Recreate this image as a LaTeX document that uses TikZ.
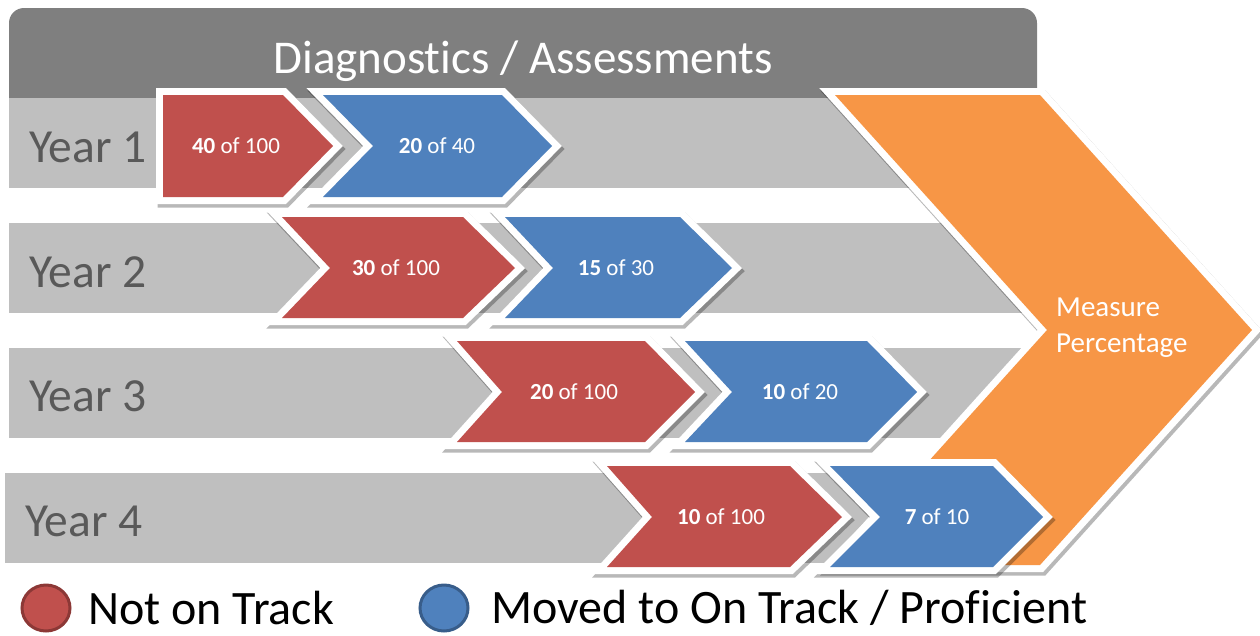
\documentclass[tikz,border=0pt]{standalone}
\usepackage{fontspec}
\setmainfont{Carlito}[Ligatures=NoCommon]
\usepackage{xcolor}
\usetikzlibrary{shapes.geometric}

\definecolor{hdrGray}{HTML}{7F7F7F}
\definecolor{barGray}{HTML}{BFBFBF}
\definecolor{yearGray}{HTML}{595959}
\definecolor{notRed}{HTML}{C0504D}
\definecolor{notRedDark}{HTML}{8C3836}
\definecolor{movBlue}{HTML}{4F81BD}
\definecolor{movBlueDark}{HTML}{385D8A}
\definecolor{measOrange}{HTML}{F79646}

\begin{document}
\begin{tikzpicture}[x=1pt,y=-1pt,
      bar/.style={
        fill=barGray,
        anchor=west,
        minimum width=1031pt,
        minimum height=90pt,
        inner xsep=20pt,
        inner ysep=0pt,
        text width=991pt,
        text height=38pt,
        text depth=0pt,
        align=flush left,
        text=yearGray,
        font=\fontsize{47.5}{52}\selectfont
      },
      chev/.style={
        line join=miter,
        preaction={draw=black, draw opacity=.28, line width=15pt,
          transform canvas={shift={(2pt,-3pt)}}},
        preaction={draw=white, line width=14pt}
      },
      val/.style={text=white, inner sep=0pt, font=\fontsize{23}{28}\selectfont},
      dot/.style={ellipse, line width=3pt, minimum width=48pt,
        minimum height=46pt, inner sep=0pt},
      key/.style={anchor=west, inner sep=0pt, font=\fontsize{48}{56}\selectfont}]

    \useasboundingbox (0,0) rectangle (1260,635);

    % header and year rows
    \fill[hdrGray, rounded corners=15pt] (9,8) rectangle (1037,125);
    \node[text=white, font=\fontsize{47}{56}\selectfont] (hdr) at (523,61) {Diagnostics / Assessments};

    \node[bar] (yr1) at (9,143) {Year 1};
    \node[bar] (yr2) at (9,268) {Year 2};
    \node[bar] (yr3) at (9,392.5) {Year 3};
    \node[bar] (yr4) at (5,517.5) {Year 4};

    % big chevron
    \path[chev, fill=measOrange] (835,95) -- (1040,95) -- (1252,330) -- (1040,565)
      -- (835,565) -- (1047,330) -- cycle;
    \node[anchor=west, align=left, text=white, inner sep=0pt,
      font=\fontsize{29}{36}\selectfont] (meas) at (1056,328) {Measure\\Percentage};

    % year 1
    \path[chev, fill=notRed] (163,95) -- (283,95) -- (333,146) -- (283,197) -- (163,197) -- cycle;
    \path[chev, fill=movBlue] (323,95) -- (502,95) -- (552,146) -- (502,197) -- (323,197) -- (373,146) -- cycle;
    \node[val] (nr1) at (236,146) {\textbf{40} of 100};
    \node[val] (mv1) at (437,146) {\textbf{20} of 40};

    % year 2
    \path[chev, fill=notRed] (282,217) -- (463,217) -- (515,268) -- (463,318) -- (282,318) -- (330,268) -- cycle;
    \path[chev, fill=movBlue] (505,217) -- (680,217) -- (732,268) -- (680,318) -- (505,318) -- (553,268) -- cycle;
    \node[val] (nr2) at (396,268) {\textbf{30} of 100};
    \node[val] (mv2) at (616,268) {\textbf{15} of 30};

    % year 3
    \path[chev, fill=notRed] (457,341) -- (645,341) -- (695,392) -- (645,442) -- (457,442) -- (502,392) -- cycle;
    \path[chev, fill=movBlue] (685,341) -- (867,341) -- (917,392) -- (867,442) -- (685,442) -- (732,392) -- cycle;
    \node[val] (nr3) at (574,392) {\textbf{20} of 100};
    \node[val] (mv3) at (800,392) {\textbf{10} of 20};

    % year 4
    \path[chev, fill=notRed] (607,466) -- (790,466) -- (842,517) -- (790,567) -- (607,567) -- (652,517) -- cycle;
    \path[chev, fill=movBlue] (830,466) -- (993,466) -- (1043,517) -- (993,567) -- (830,567) -- (880,517) -- cycle;
    \node[val] (nr4) at (721,517) {\textbf{10} of 100};
    \node[val] (mv4) at (937,517) {\textbf{7} of 10};

    % legend
    \node[dot, fill=notRed, draw=notRedDark] (kNot) at (46,608) {};
    \node[key] (kNotTxt) at (88,608) {Not on Track};
    \node[dot, fill=movBlue, draw=movBlueDark] (kMov) at (444,608) {};
    \node[key] (kMovTxt) at (491,608) {Moved to On Track / Proficient};
  \end{tikzpicture}
\end{document}
